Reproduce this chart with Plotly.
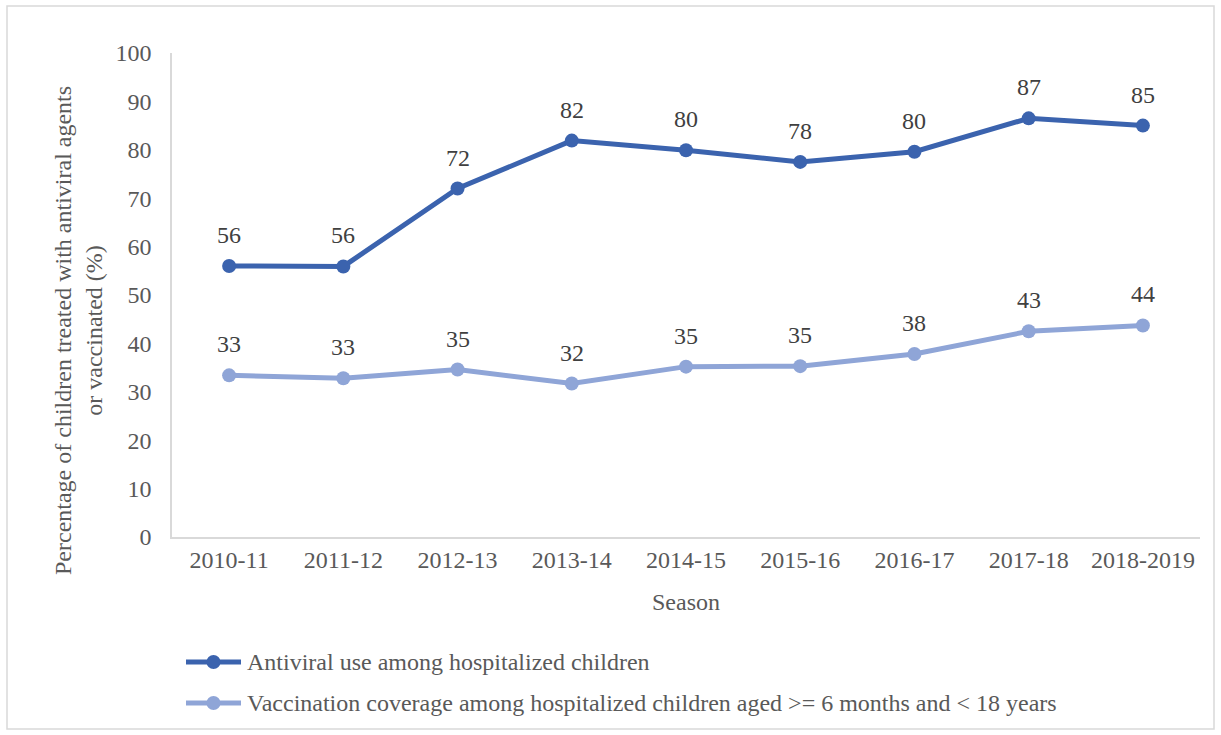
import plotly.graph_objects as go

seasons = ["2010-11", "2011-12", "2012-13", "2013-14", "2014-15",
           "2015-16", "2016-17", "2017-18", "2018-2019"]
antiviral = [56.0, 55.9, 72.0, 81.9, 79.9, 77.5, 79.6, 86.5, 85.0]
antiviral_labels = ["56", "56", "72", "82", "80", "78", "80", "87", "85"]
vaccination = [33.4, 32.8, 34.6, 31.7, 35.2, 35.3, 37.8, 42.5, 43.7]
vaccination_labels = ["33", "33", "35", "32", "35", "35", "38", "43", "44"]

name_av = "Antiviral use among hospitalized children"
name_vc = "Vaccination coverage among hospitalized children aged >= 6 months and < 18 years"

DARK = "#3B63AE"
LIGHT = "#8FA5D7"
FONT = "Liberation Serif"
FS = 24
TXT = "#595959"

# pixel helpers for the plot area (172..1200 x, 53..537 y)
def px(x):
    return (x - 172) / 1028

def py(y):
    return (537 - y) / 484

fig = go.Figure()
fig.add_trace(go.Scatter(x=seasons, y=antiviral, mode="lines+markers", name=name_av,
                         line=dict(color=DARK, width=5),
                         marker=dict(color=DARK, size=14), showlegend=False))
fig.add_trace(go.Scatter(x=seasons, y=vaccination, mode="lines+markers", name=name_vc,
                         line=dict(color=LIGHT, width=5),
                         marker=dict(color=LIGHT, size=14), showlegend=False))

annotations = []
for s, v, t in zip(seasons, antiviral, antiviral_labels):
    annotations.append(dict(x=s, y=v, text=t, showarrow=False, yshift=31,
                            font=dict(family=FONT, size=FS, color="#404040")))
for s, v, t in zip(seasons, vaccination, vaccination_labels):
    annotations.append(dict(x=s, y=v, text=t, showarrow=False, yshift=31,
                            font=dict(family=FONT, size=FS, color="#404040")))

# y axis title (two lines)
annotations.append(dict(xref="paper", yref="paper", x=px(78), y=py(331),
                        text="Percentage of children treated with antiviral agents<br>or vaccinated (%)",
                        textangle=-90, showarrow=False, xanchor="center", yanchor="middle",
                        font=dict(family=FONT, size=FS, color=TXT)))
# x axis title
annotations.append(dict(xref="paper", yref="paper", x=0.5, y=py(602),
                        text="Season", showarrow=False, xanchor="center", yanchor="middle",
                        font=dict(family=FONT, size=FS, color=TXT)))

shapes = [dict(type="rect", xref="paper", yref="paper",
               x0=px(7), x1=px(1214), y0=py(729), y1=py(6),
               line=dict(color="#D9D9D9", width=1.5), fillcolor="rgba(0,0,0,0)")]

# legend (drawn manually to match the long line swatch)
legend_rows = [(name_av, DARK, 662), (name_vc, LIGHT, 703)]
for name, col, ly in legend_rows:
    shapes.append(dict(type="line", xref="paper", yref="paper",
                       x0=px(186), x1=px(241), y0=py(ly), y1=py(ly),
                       line=dict(color=col, width=5)))
    shapes.append(dict(type="circle", xref="paper", yref="paper",
                       x0=px(206.5), x1=px(220.5), y0=py(ly + 7), y1=py(ly - 7),
                       line=dict(color=col, width=0), fillcolor=col))
    annotations.append(dict(xref="paper", yref="paper", x=px(245), y=py(ly),
                            text=name, showarrow=False, xanchor="left", yanchor="middle",
                            font=dict(family=FONT, size=FS, color=TXT)))

fig.update_layout(
    width=1221, height=735,
    margin=dict(l=172, r=21, t=53, b=198),
    paper_bgcolor="white", plot_bgcolor="white",
    font=dict(family=FONT, size=FS, color=TXT),
    showlegend=False,
    annotations=annotations,
    shapes=shapes,
)
fig.update_xaxes(type="category", range=[-0.5, 8.5], showgrid=False, zeroline=False,
                 showline=True, linecolor="#D9D9D9", linewidth=1.5, ticks="",
                 tickfont=dict(family=FONT, size=FS, color=TXT))
fig.update_yaxes(range=[0, 100], dtick=10, showgrid=False, zeroline=False,
                 showline=True, linecolor="#D9D9D9", linewidth=1.5, ticks="",
                 ticklabelstandoff=14,
                 tickfont=dict(family=FONT, size=FS, color=TXT))

fig.write_html("out.html")
